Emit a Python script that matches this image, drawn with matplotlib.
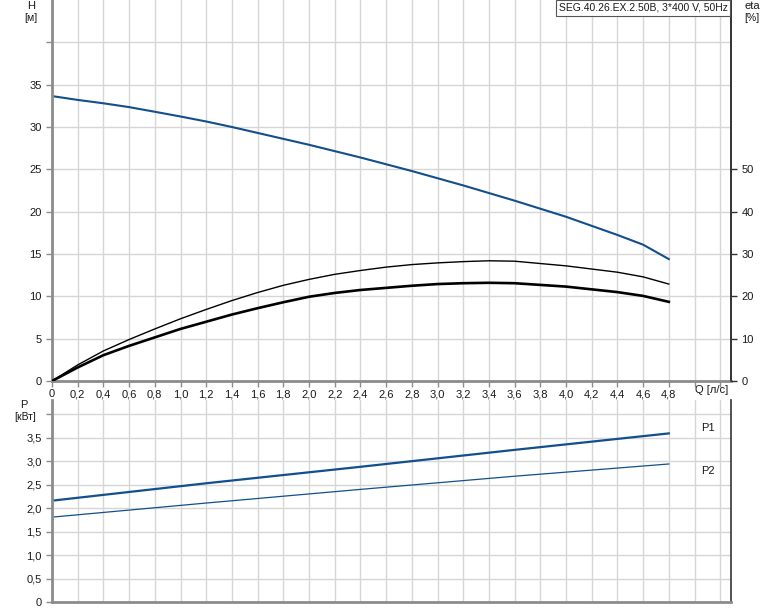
import matplotlib
matplotlib.use("Agg")
import matplotlib.pyplot as plt
import numpy as np

plt.rcParams['font.family'] = ['Liberation Sans', 'DejaVu Sans']

# ---- data ----
q_h = [0.0, 0.2, 0.4, 0.6, 0.8, 1.0, 1.2, 1.4, 1.6, 2.0, 2.4, 2.8, 3.0, 3.2, 3.6, 4.0, 4.4, 4.6, 4.8]
h_vals = [33.65, 33.2, 32.8, 32.35, 31.8, 31.24, 30.65, 30.0, 29.3, 27.9, 26.4, 24.8, 23.95, 23.1, 21.3, 19.4, 17.25, 16.1, 14.4]

q_eta = [0.0, 0.2, 0.4, 0.6, 0.8, 1.0, 1.2, 1.4, 1.6, 1.8, 2.0, 2.2, 2.4, 2.6, 2.8, 3.0, 3.2, 3.4, 3.6, 4.0, 4.4, 4.6, 4.8]
eta_pump = [0.0, 3.8, 7.1, 9.8, 12.3, 14.7, 16.9, 19.0, 20.9, 22.6, 24.0, 25.2, 26.1, 26.9, 27.5, 27.9, 28.2, 28.4, 28.3, 27.2, 25.7, 24.6, 22.9]
eta_total = [0.0, 3.2, 6.1, 8.3, 10.3, 12.3, 14.0, 15.7, 17.2, 18.6, 19.9, 20.8, 21.5, 22.0, 22.5, 22.9, 23.1, 23.2, 23.1, 22.3, 21.0, 20.1, 18.7]

q_p = [0.0, 1.2, 2.4, 3.6, 4.8]
p1_vals = [2.16, 2.53, 2.88, 3.24, 3.59]
p2_vals = [1.81, 2.11, 2.40, 2.68, 2.94]

x_ticks = [round(0.2 * i, 1) for i in range(27)]
x_labels = [f"{v:.1f}".replace('.', ',') if v > 0 else "0" for v in x_ticks if v <= 4.8]
h_ticks = [0, 5, 10, 15, 20, 25, 30, 35, 40]
h_labels = ["0", "5", "10", "15", "20", "25", "30", "35"]
eta_ticks = [0, 10, 20, 30, 40, 50]
p_ticks = [0, 0.5, 1.0, 1.5, 2.0, 2.5, 3.0, 3.5, 4.0]
p_labels = ["0", "0,5", "1,0", "1,5", "2,0", "2,5", "3,0", "3,5"]
title_text = "SEG.40.26.EX.2.50B, 3*400 V, 50Hz"

BLUE = '#124f8c'
GRID = '#d6d6d6'
SPINE = '#8c8c8c'
TXT = '#1a1a1a'

W, H = 774, 611
fig = plt.figure(figsize=(W / 100, H / 100), dpi=100)

def fx(px):
    return px / W

def fy(py):
    return 1 - py / H

left, right = 52, 731
ax = fig.add_axes([fx(left), fy(381), fx(right - left), 381 / H])
axp = fig.add_axes([fx(left), fy(602.3), fx(right - left), (602.3 - 400) / H])

for a in (ax, axp):
    a.set_xlim(0, 5.284)
    a.set_xticks(x_ticks)
    a.grid(True, color=GRID, linewidth=1.0)
    a.set_axisbelow(True)
    a.spines['top'].set_visible(False)
    a.spines['left'].set_color(SPINE)
    a.spines['left'].set_linewidth(2)
    a.spines['bottom'].set_color(SPINE)
    a.spines['bottom'].set_linewidth(2)
    a.spines['right'].set_color('#333333')
    a.spines['right'].set_linewidth(1.2)
    a.tick_params(axis='both', colors=SPINE, labelcolor=TXT, labelsize=8, length=4, width=1)

# top axes
ax.set_ylim(0, 45)
ax.set_yticks(h_ticks)
ax.set_yticklabels(h_labels + [""])
ax.set_xticklabels(x_labels + [""] * (len(x_ticks) - len(x_labels)))
ax.tick_params(axis='x', pad=2)
ax.plot(q_h, h_vals, color=BLUE, linewidth=1.5)

ax2 = ax.twinx()
ax2.set_ylim(0, 90)
ax2.set_yticks(eta_ticks)
ax2.set_yticklabels([str(v) for v in eta_ticks])
ax2.tick_params(axis='y', colors='#333333', labelcolor=TXT, labelsize=8, length=4, width=1)
for s in ('top', 'left', 'bottom'):
    ax2.spines[s].set_visible(False)
ax2.spines['right'].set_color('#333333')
ax2.spines['right'].set_linewidth(1.2)
ax2.plot(q_eta, eta_pump, color='black', linewidth=1.0)
ax2.plot(q_eta, eta_total, color='black', linewidth=1.9)

# bottom axes
axp.set_ylim(0, 4.3)
axp.set_yticks(p_ticks)
axp.set_yticklabels(p_labels + [""])
axp.set_xticklabels([])
axp.tick_params(axis='x', length=0)
axp.plot(q_p, p1_vals, color=BLUE, linewidth=1.6)
axp.plot(q_p, p2_vals, color=BLUE, linewidth=0.9)

# texts
fig.text(fx(31), fy(6), "H", ha='center', va='center', fontsize=8, color=TXT)
fig.text(fx(31), fy(18), "[м]", ha='center', va='center', fontsize=7.5, color=TXT)
fig.text(fx(752), fy(6), "eta", ha='center', va='center', fontsize=8, color=TXT)
fig.text(fx(752), fy(18), "[%]", ha='center', va='center', fontsize=7.5, color=TXT)
fig.text(fx(712), fy(390), "Q [л/с]", ha='center', va='center', fontsize=8, color=TXT)
fig.text(fx(24), fy(405), "P", ha='center', va='center', fontsize=8, color=TXT)
fig.text(fx(25), fy(417), "[кВт]", ha='center', va='center', fontsize=7.5, color=TXT)
fig.text(fx(708), fy(428), "P1", ha='center', va='center', fontsize=8, color=TXT)
fig.text(fx(708), fy(471), "P2", ha='center', va='center', fontsize=8, color=TXT)
fig.text(fx(643), fy(8), title_text, ha='center', va='center', fontsize=7.5, color=TXT,
         bbox=dict(boxstyle='square,pad=0.25', facecolor='white', edgecolor='#555555', linewidth=0.8))

fig.savefig("out.png", dpi=100)
